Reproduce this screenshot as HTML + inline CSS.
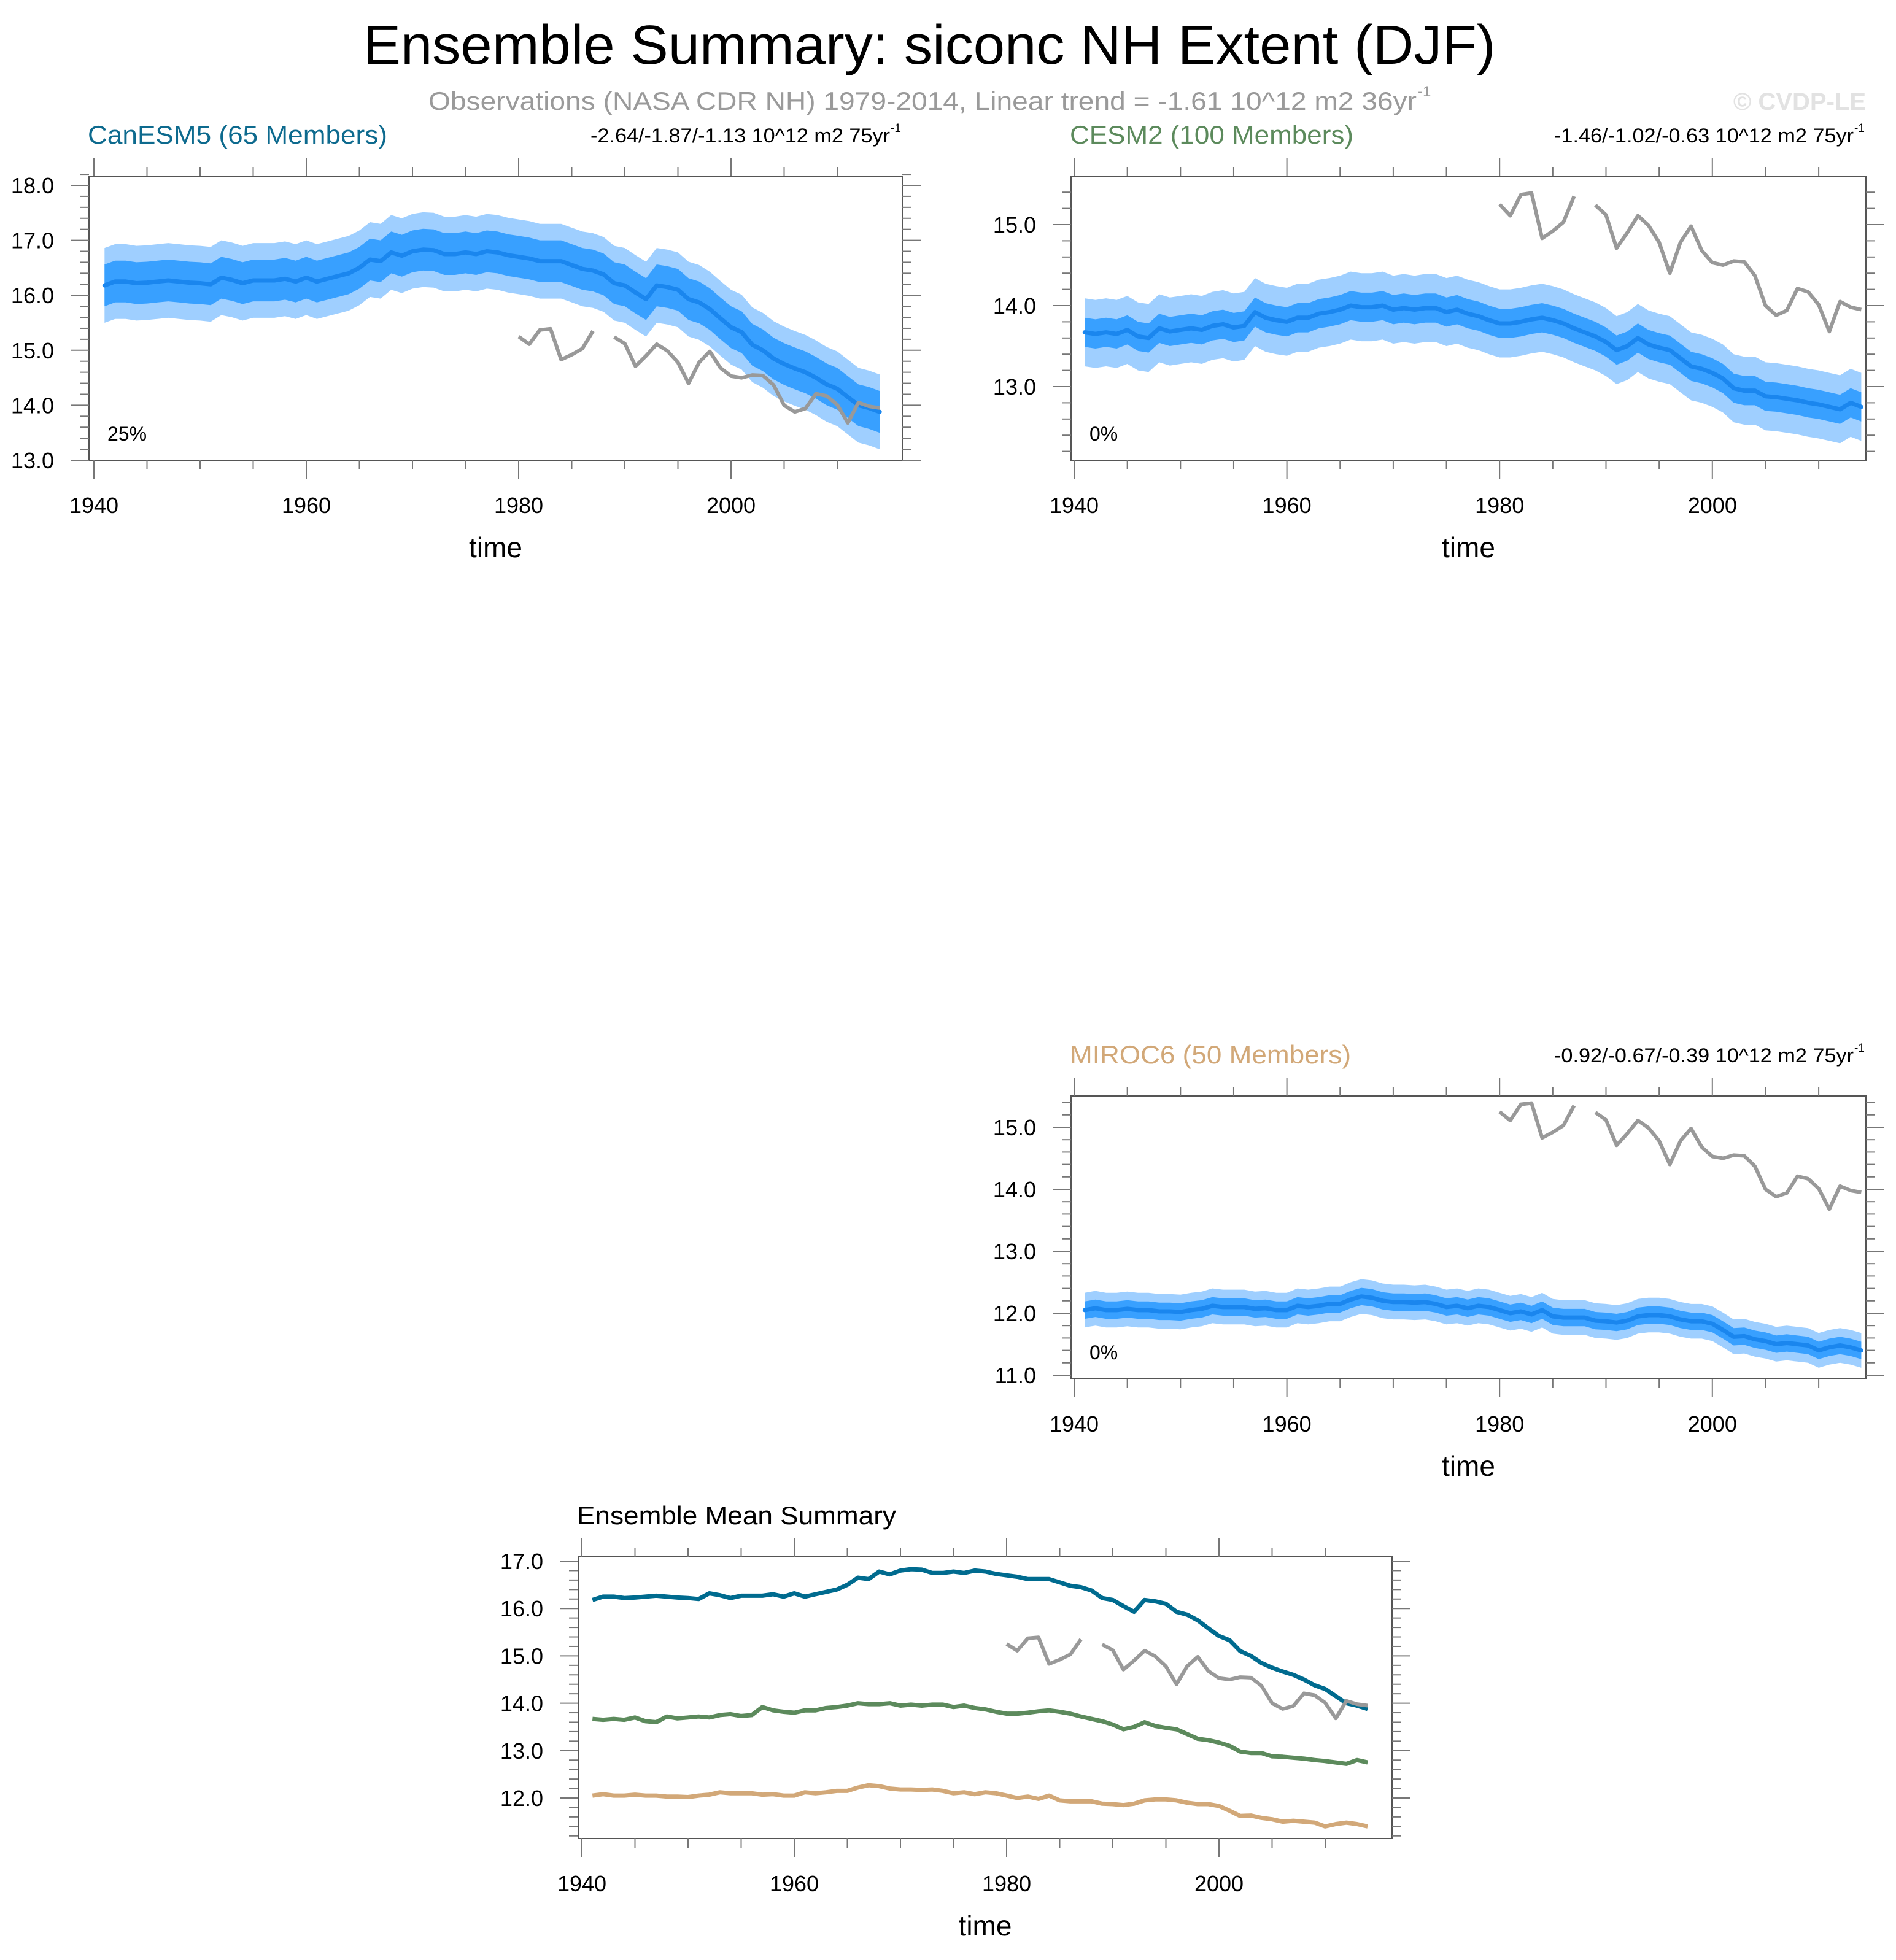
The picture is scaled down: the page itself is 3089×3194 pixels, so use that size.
<!DOCTYPE html>
<html><head><meta charset="utf-8"><style>
html,body{margin:0;padding:0;background:#fff;}
svg{display:block;font-family:"Liberation Sans",sans-serif;}
</style></head><body>
<svg id="fig" xmlns="http://www.w3.org/2000/svg" width="3089" height="3194" viewBox="0 0 3089 3194">
<rect width="3089" height="3194" fill="#fff"/>
<text x="1514" y="104" font-size="90" text-anchor="middle" textLength="1845" lengthAdjust="spacingAndGlyphs">Ensemble Summary: siconc NH Extent (DJF)</text>
<text x="698" y="179" font-size="42" fill="#9a9a9a" textLength="1610" lengthAdjust="spacingAndGlyphs">Observations (NASA CDR NH) 1979-2014, Linear trend = -1.61 10^12 m2 36yr</text>
<text x="2310" y="157" font-size="24" fill="#9a9a9a">-1</text>
<text x="3040" y="179" font-size="40" font-weight="bold" fill="#e2e2e2" text-anchor="end">© CVDP-LE</text>
<g id="plots"></g>
</svg>
<script>
const years = [];
for (let y = 1941; y <= 2014; y++) years.push(y);
const obsYears = [1980,1981,1982,1983,1984,1985,1986,1987,1988,1989,1990,1991,1992,1993,1994,1995,1996,1997,1998,1999,2000,2001,2002,2003,2004,2005,2006,2007,2008,2009,2010,2011,2012,2013,2014];
const obsValues = [15.25,15.11,15.37,15.39,14.83,14.92,15.03,15.35,null,15.24,15.12,14.71,14.9,15.11,14.99,14.78,14.4,14.78,14.98,14.68,14.53,14.5,14.55,14.54,14.37,14.0,13.88,13.94,14.21,14.17,14.01,13.68,14.05,13.98,13.95];
const canesm5Mean = [16.18,16.25,16.25,16.22,16.23,16.25,16.27,16.25,16.23,16.22,16.2,16.32,16.28,16.22,16.27,16.27,16.27,16.3,16.25,16.32,16.25,16.3,16.35,16.4,16.5,16.65,16.62,16.78,16.72,16.8,16.83,16.82,16.75,16.75,16.78,16.75,16.8,16.78,16.73,16.7,16.67,16.62,16.62,16.62,16.55,16.48,16.45,16.38,16.22,16.18,16.05,15.93,16.18,16.15,16.1,15.93,15.87,15.75,15.58,15.42,15.33,15.1,15.0,14.85,14.75,14.67,14.6,14.5,14.38,14.3,14.15,14.0,13.95,13.88];
const cesm2Mean = [13.67,13.65,13.67,13.65,13.7,13.62,13.6,13.72,13.68,13.7,13.72,13.7,13.75,13.77,13.73,13.75,13.92,13.85,13.82,13.8,13.85,13.85,13.9,13.92,13.95,14.0,13.98,13.98,14.0,13.95,13.97,13.95,13.97,13.97,13.92,13.95,13.9,13.87,13.82,13.78,13.78,13.8,13.83,13.85,13.82,13.78,13.72,13.67,13.62,13.55,13.45,13.5,13.6,13.52,13.48,13.45,13.35,13.25,13.22,13.17,13.1,12.98,12.95,12.95,12.88,12.87,12.85,12.83,12.8,12.78,12.75,12.72,12.8,12.75];
const miroc6Mean = [12.05,12.08,12.05,12.05,12.07,12.05,12.05,12.03,12.03,12.02,12.05,12.07,12.12,12.1,12.1,12.1,12.07,12.08,12.05,12.05,12.12,12.1,12.12,12.15,12.15,12.22,12.27,12.25,12.2,12.18,12.18,12.17,12.18,12.15,12.1,12.12,12.08,12.12,12.1,12.05,12.0,12.03,11.98,12.05,11.95,11.93,11.93,11.93,11.88,11.87,11.85,11.88,11.95,11.97,11.97,11.95,11.9,11.87,11.87,11.83,11.73,11.62,11.63,11.58,11.55,11.5,11.52,11.5,11.48,11.4,11.45,11.48,11.45,11.4];
const canesm5Spread = [0.38, 0.68];
const cesm2Spread = [0.18, 0.42];
const miroc6Spread = [0.14, 0.28];
const xTicks = [1940,1960,1980,2000];

const NS = "http://www.w3.org/2000/svg";
const root = document.getElementById('plots');
function mk(tag, attrs, parent) {
  const e = document.createElementNS(NS, tag);
  for (const k in attrs) e.setAttribute(k, attrs[k]);
  (parent || root).appendChild(e);
  return e;
}
function linePath(xs, ys, sx, sy) {
  let d = '', pen = false;
  for (let i = 0; i < xs.length; i++) {
    if (ys[i] == null) { pen = false; continue; }
    d += (pen ? 'L' : 'M') + sx(xs[i]).toFixed(1) + ',' + sy(ys[i]).toFixed(1);
    pen = true;
  }
  return d;
}
function bandPath(xs, lo, hi, sx, sy) {
  let d = '';
  for (let i = 0; i < xs.length; i++) d += (i ? 'L' : 'M') + sx(xs[i]).toFixed(1) + ',' + sy(hi[i]).toFixed(1);
  for (let i = xs.length - 1; i >= 0; i--) d += 'L' + sx(xs[i]).toFixed(1) + ',' + sy(lo[i]).toFixed(1);
  return d + 'Z';
}
function panel(cfg) {
  const g = mk('g', {});
  
  
  const sx = v => cfg.x1940 + (v - 1940) * cfg.pxYr;
  const sy = v => cfg.yRef + (cfg.vRef - v) * cfg.pxUnit;
  const L = cfg.left, R = cfg.right, T = cfg.top, B = cfg.bottom;
  if (cfg.series) {
    cfg.series.forEach(s => {
      const p = mk('path', {d: linePath(years, s.vals, sx, sy), fill: 'none', stroke: s.color, 'stroke-width': 7, 'stroke-linejoin': 'round'}, g);
      
      
    });
  } else {
    const m = cfg.mean, sp = cfg.spread;
    const outer = mk('path', {d: bandPath(years, m.map(v => v - sp[1]), m.map(v => v + sp[1]), sx, sy), fill: '#9fcfff'}, g);
    
    
    const inner = mk('path', {d: bandPath(years, m.map(v => v - sp[0]), m.map(v => v + sp[0]), sx, sy), fill: '#38a0ff'}, g);
    
    
    const ml = mk('path', {d: linePath(years, m, sx, sy), fill: 'none', stroke: '#1a86ee', 'stroke-width': 7, 'stroke-linejoin': 'round', 'stroke-linecap': 'round'}, g);
    
    
  }
  const ob = mk('path', {d: linePath(obsYears, obsValues, sx, sy), fill: 'none', stroke: '#999', 'stroke-width': 6, 'stroke-linejoin': 'round'}, g);
  
  
  const fr = mk('rect', {x: L, y: T, width: R - L, height: B - T, fill: 'none', stroke: '#555', 'stroke-width': 2}, g);
  
  
  const tk = mk('g', {stroke: '#777', 'stroke-width': 2}, g);
  
  
  for (let yr = 1940; yr <= 2014; yr += 5) {
    const x = sx(yr), len = yr % 20 === 0 ? 30 : 15;
    mk('line', {x1: x, x2: x, y1: B, y2: B + len}, tk);
    mk('line', {x1: x, x2: x, y1: T, y2: T - len}, tk);
  }
  for (let k = Math.ceil(cfg.yMin * 5); k <= Math.floor(cfg.yMax * 5); k++) {
    const v = k / 5, y = sy(v), len = k % 5 === 0 ? 30 : 15;
    mk('line', {x1: L, x2: L - len, y1: y, y2: y}, tk);
    mk('line', {x1: R, x2: R + len, y1: y, y2: y}, tk);
    if (k % 5 === 0) {
      const t = mk('text', {x: L - 57, y: y + 13, 'font-size': 36, 'text-anchor': 'end'}, g);
      t.textContent = v.toFixed(1);
      
      
    }
  }
  xTicks.forEach(yr => {
    const t = mk('text', {x: sx(yr), y: B + 86, 'font-size': 36, 'text-anchor': 'middle'}, g);
    t.textContent = yr;
    
    
  });
  const xt = mk('text', {x: (L + R) / 2, y: B + 158, 'font-size': 46, 'text-anchor': 'middle'}, g);
  xt.textContent = 'time';
  
  
  const tt = mk('text', {x: L - 2, y: T - 53, 'font-size': 42, fill: cfg.titleColor, textLength: cfg.titleW, lengthAdjust: 'spacingAndGlyphs'}, g);
  tt.textContent = cfg.title;
  
  
  if (cfg.trend) {
    const tr = mk('text', {x: R - 508, y: T - 55, 'font-size': 32, textLength: 488, lengthAdjust: 'spacingAndGlyphs'}, g);
    tr.textContent = cfg.trend;
    
    
    const sup = mk('text', {x: R - 19, y: T - 72, 'font-size': 19}, g);
    sup.textContent = '-1';
    
    
  }
  if (cfg.pct) {
    const pc = mk('text', {x: L + 30, y: B - 32, 'font-size': 32}, g);
    pc.textContent = cfg.pct;
    
    
  }
}
panel({name:'canesm5-panel', left:145, right:1470, top:287, bottom:750, x1940:153, pxYr:17.3, yRef:750, vRef:13, pxUnit:89.6, yMin:13, yMax:18.3,
  mean: canesm5Mean, spread: canesm5Spread, title:'CanESM5 (65 Members)', titleW:488, titleColor:'#0d6a8e', trend:'-2.64/-1.87/-1.13 10^12 m2 75yr', pct:'25%'});
panel({name:'cesm2-panel', left:1745, right:3040, top:287, bottom:750, x1940:1750, pxYr:17.33, yRef:630, vRef:13, pxUnit:132, yMin:12.1, yMax:15.5,
  mean: cesm2Mean, spread: cesm2Spread, title:'CESM2 (100 Members)', titleW:462, titleColor:'#5c8a5c', trend:'-1.46/-1.02/-0.63 10^12 m2 75yr', pct:'0%'});
panel({name:'miroc6-panel', left:1745, right:3040, top:1786, bottom:2247, x1940:1750, pxYr:17.33, yRef:2241, vRef:11, pxUnit:101, yMin:10.97, yMax:15.5,
  mean: miroc6Mean, spread: miroc6Spread, title:'MIROC6 (50 Members)', titleW:458, titleColor:'#d2a878', trend:'-0.92/-0.67/-0.39 10^12 m2 75yr', pct:'0%'});
panel({name:'ensemble-mean-panel', left:942, right:2268, top:2537, bottom:2996, x1940:948, pxYr:17.3, yRef:2930, vRef:12, pxUnit:77.2, yMin:11.15, yMax:17.1,
  series:[{name:'canesm5-mean-line', vals:canesm5Mean, color:'#006b8f'},{name:'cesm2-mean-line', vals:cesm2Mean, color:'#5c8a5c'},{name:'miroc6-mean-line', vals:miroc6Mean, color:'#d2a878'}],
  title:'Ensemble Mean Summary', titleW:520, titleColor:'#000'});
</script>
</body></html>
